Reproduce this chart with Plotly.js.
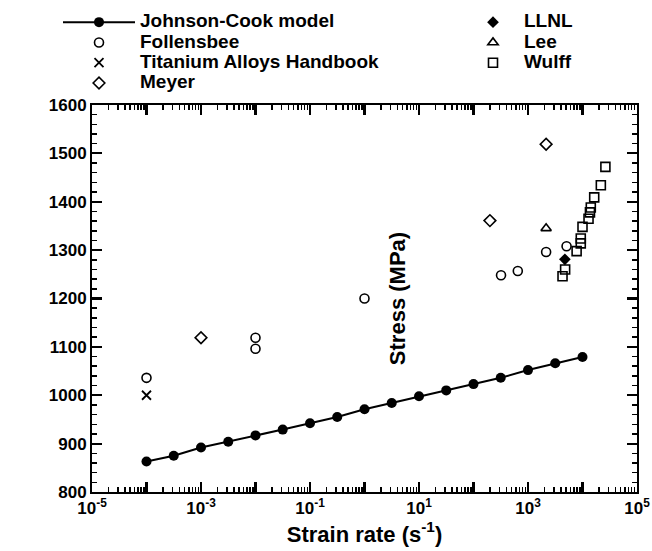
<!DOCTYPE html>
<html><head><meta charset="utf-8">
<script src="https://cdn.plot.ly/plotly-3.0.1.min.js"></script>
<style>html,body{margin:0;padding:0;background:#fff}</style>
</head><body><div id="chart" style="width:652px;height:551px"></div>
<script>
// ---- data ----
const jcRate   = [1e-4, 3.16e-4, 1e-3, 3.16e-3, 1e-2, 3.16e-2, 1e-1, 3.16e-1, 1, 3.16, 10, 31.6, 100, 316, 1000, 3160, 10000];
const jcStress = [863, 875, 892, 904, 917, 929, 942, 955, 971, 984, 998, 1010, 1023, 1036, 1052, 1066, 1079];

const follRate   = [1e-4, 1e-2, 1e-2, 1, 320, 650, 2150, 5100];
const follStress = [1036, 1119, 1096, 1200, 1248, 1257, 1296, 1308];

const tahRate   = [1e-4];
const tahStress = [1000];

const meyerRate   = [1e-3, 200, 2150];
const meyerStress = [1119, 1361, 1519];

const llnlRate   = [4750];
const llnlStress = [1281];

const leeRate   = [2150];
const leeStress = [1345];

const wulffRate   = [4300, 4800, 7800, 9300, 9300, 10000, 12900, 13700, 14200, 16400, 21700, 26300];
const wulffStress = [1246, 1260, 1298, 1314, 1324, 1348, 1365, 1378, 1388, 1409, 1434, 1472];

const xTickVals = [1e-5, 1e-4, 1e-3, 1e-2, 1e-1, 1, 10, 100, 1e3, 1e4, 1e5];
const xTickText = ['10<sup>-5</sup>', '', '10<sup>-3</sup>', '', '10<sup>-1</sup>', '', '10<sup>1</sup>', '', '10<sup>3</sup>', '', '10<sup>5</sup>'];
const xMinorVals = [];
for (let e = -5; e < 5; e++) for (let m = 2; m <= 9; m++) xMinorVals.push(m * Math.pow(10, e));

const FONT = 'Liberation Sans, Arial, Helvetica, sans-serif';
const lab = t => '<span style="font-size:19px">' + t + '</span>';

const traces = [
  {x: jcRate, y: jcStress, name: lab('Johnson-Cook model'), mode: 'lines+markers', legend: 'legend',
   line: {color: '#000', width: 2}, marker: {symbol: 'circle', size: 10, color: '#000'}},
  {x: follRate, y: follStress, name: lab('Follensbee'), mode: 'markers', legend: 'legend',
   marker: {symbol: 'circle-open', size: 9, color: '#000', line: {width: 1.6, color: '#000'}}},
  {x: tahRate, y: tahStress, name: lab('Titanium Alloys Handbook'), mode: 'markers', legend: 'legend',
   marker: {symbol: 'x-thin-open', size: 9, color: '#000', line: {width: 1.8, color: '#000'}}},
  {x: meyerRate, y: meyerStress, name: lab('Meyer'), mode: 'markers', legend: 'legend',
   marker: {symbol: 'diamond-open', size: 9, color: '#000', line: {width: 1.6, color: '#000'}}},
  {x: llnlRate, y: llnlStress, name: lab('LLNL'), mode: 'markers', legend: 'legend2',
   marker: {symbol: 'diamond', size: 9, color: '#000'}},
  {x: leeRate, y: leeStress, name: lab('Lee'), mode: 'markers', legend: 'legend2',
   marker: {symbol: 'triangle-up-open', size: 9, color: '#000', line: {width: 1.6, color: '#000'}}},
  {x: wulffRate, y: wulffStress, name: lab('Wulff'), mode: 'markers', legend: 'legend2',
   marker: {symbol: 'square-open', size: 9, color: '#000', line: {width: 1.6, color: '#000'}}}
];

const axisCommon = {
  showgrid: false, zeroline: false, showline: true, linecolor: '#000', linewidth: 2,
  mirror: 'allticks', ticks: 'inside', ticklen: 10, tickwidth: 2.2, tickcolor: '#000', automargin: false,
  tickfont: {family: FONT, size: 17, color: '#000', weight: 'bold'}
};

const layout = {
  width: 652, height: 551,
  margin: {l: 92, r: 15, t: 105, b: 59, pad: 0, autoexpand: false},
  showlegend: true,
  legend: {xref: 'container', yref: 'container', x: 58 / 652, y: 1 - 7 / 551, xanchor: 'left', yanchor: 'top',
           bgcolor: 'rgba(0,0,0,0)', borderwidth: 0, itemwidth: 72, tracegroupgap: 0,
           font: {family: FONT, size: 13.3, color: '#000', weight: 'bold'}},
  legend2: {xref: 'container', yref: 'container', x: 462 / 652, y: 1 - 7 / 551, xanchor: 'left', yanchor: 'top',
           bgcolor: 'rgba(0,0,0,0)', borderwidth: 0, itemwidth: 52, tracegroupgap: 0,
           font: {family: FONT, size: 13.3, color: '#000', weight: 'bold'}},
  xaxis: Object.assign({}, axisCommon, {
    type: 'log', range: [-5, 5], tickmode: 'array', tickvals: xTickVals, ticktext: xTickText, tickangle: 0,
    minor: {tickmode: 'array', tickvals: xMinorVals, ticks: 'inside', ticklen: 5, tickwidth: 1.5, tickcolor: '#000'},
    title: {text: 'Strain rate (s<sup>-1</sup>)', font: {family: FONT, size: 22, color: '#000', weight: 'bold'}, standoff: 8}
  }),
  yaxis: Object.assign({}, axisCommon, {
    range: [800, 1600], tickmode: 'linear', tick0: 800, dtick: 100,
    minor: {dtick: 20, ticks: 'inside', ticklen: 5, tickwidth: 1.5, tickcolor: '#000'},
    title: {text: 'Stress (MPa)', font: {family: FONT, size: 22, color: '#000', weight: 'bold'}, standoff: 10}
  })
};

Plotly.newPlot('chart', traces, layout, {staticPlot: true, displayModeBar: false});
</script>
</body></html>
